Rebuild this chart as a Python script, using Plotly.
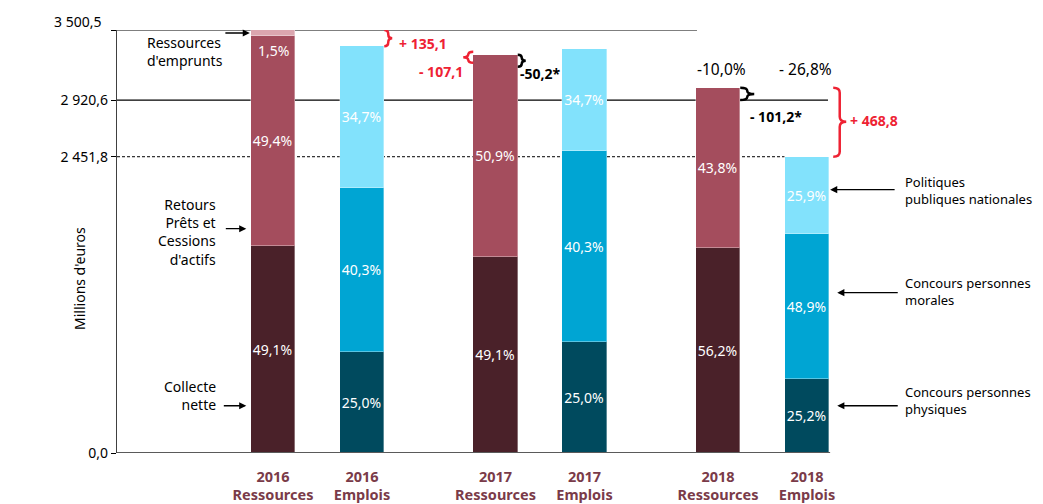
import plotly.graph_objects as go

# bar positions (2016 / 2017 / 2018, Ressources then Emplois)
ress_x = [0, 2.5, 5]
empl_x = [1, 3.5, 6]
ress_labels = ["2016<br>Ressources", "2017<br>Ressources", "2018<br>Ressources"]
empl_labels = ["2016<br>Emplois", "2017<br>Emplois", "2018<br>Emplois"]

# millions d'euros
ress_total = [3500.5, 3296.0, 3021.8]
empl_total = [3365.4, 3346.2, 2451.8]
collecte = [1709.7, 1618.7, 1699.0]
emprunts = [53.0, 0, 0]
retours = [t - c - e for t, c, e in zip(ress_total, collecte, emprunts)]
conc_pp = [832.5, 918.6, 612.4]
conc_pm = [1363.0, 1580.6, 1202.4]
pol_pub = [t - a - b for t, a, b in zip(empl_total, conc_pp, conc_pm)]

collecte_pct = ["49,1%", "49,1%", "56,2%"]
retours_pct = ["49,4%", "50,9%", "43,8%"]
emprunts_pct = "1,5%"
conc_pp_pct = ["25,0%", "25,0%", "25,2%"]
conc_pm_pct = ["40,3%", "40,3%", "48,9%"]
pol_pub_pct = ["34,7%", "34,7%", "25,9%"]

ref_vals = [3500.5, 2920.6, 2451.8, 0]
ref_text = ["3 500,5", "2 920,6", "2 451,8", "0,0"]

FONT = "Noto Sans"
RED = "#ee2233"
LAB = "#7a3b49"
XMIN, XMAX = -1.753, 8.652
PX = 1 / 89.0            # x units per pixel
PY = 3500.5 / 423.0      # y units per pixel
W = 0.5

fig = go.Figure()

def seg(x, y, color, text=None):
    fig.add_trace(go.Bar(x=x, y=y, width=W, marker=dict(color=color, line=dict(color="rgba(255,255,255,0.35)", width=1)),
                         text=text, textposition="inside" if text else "none", insidetextanchor="middle",
                         textangle=0, textfont=dict(color="white", size=14, family=FONT),
                         hoverinfo="skip", showlegend=False))

seg(ress_x, collecte, "#4a2129", collecte_pct)
seg(ress_x, retours, "#a44d5d", retours_pct)
seg(ress_x, emprunts, "#dba6af")
seg(empl_x, conc_pp, "#004a5e", conc_pp_pct)
seg(empl_x, conc_pm, "#00a5d3", conc_pm_pct)
seg(empl_x, pol_pub, "#82e2fc", pol_pub_pct)

shapes = []
# horizontal reference lines
shapes.append(dict(type="line", xref="x", yref="y", x0=XMIN, x1=4.764, y0=ref_vals[0], y1=ref_vals[0],
                   line=dict(color="black", width=1.2), layer="below"))
shapes.append(dict(type="line", xref="x", yref="y", x0=XMIN, x1=6.236, y0=ref_vals[1], y1=ref_vals[1],
                   line=dict(color="black", width=1.2), layer="below"))
shapes.append(dict(type="line", xref="x", yref="y", x0=XMIN, x1=5.75, y0=ref_vals[2], y1=ref_vals[2],
                   line=dict(color="black", width=1, dash="3px,2px"), layer="below"))
# baseline
shapes.append(dict(type="line", xref="x", yref="y", x0=XMIN, x1=6.26, y0=0, y1=0,
                   line=dict(color="#5a5a5a", width=2)))


def brace(xb, xt, yt, yb, r, ym=None):
    ym = (yt + yb) / 2 if ym is None else ym
    xm = (xb + xt) / 2
    return (f"M{xb},{yt} Q{xm},{yt} {xm},{yt - r} L{xm},{ym + r} Q{xm},{ym} {xt},{ym} "
            f"Q{xm},{ym} {xm},{ym - r} L{xm},{yb + r} Q{xm},{yb} {xb},{yb}")


def add_brace(xb, xt, yt, yb, r, color, ym=None):
    shapes.append(dict(type="path", xref="x", yref="y", path=brace(xb, xt, yt, yb, r, ym),
                       line=dict(color=color, width=2.5)))

# 2016 Emplois vs Ressources
add_brace(empl_x[0] + W / 2, empl_x[0] + W / 2 + 8 * PX, ress_total[0], empl_total[0], 4 * PY, RED)
# 2017 Ressources left / right
add_brace(ress_x[1] - W / 2, ress_x[1] - W / 2 - 10 * PX, ress_total[1] + 3 * PY, ress_total[1] - 8 * PY, 3 * PY, RED)
add_brace(ress_x[1] + W / 2, ress_x[1] + W / 2 + 8 * PX, ress_total[1], ress_total[1] - 12 * PY, 3 * PY, "black")
# 2018 Ressources vs 2920,6
add_brace(ress_x[2] + W / 2, ress_x[2] + W / 2 + 14 * PX, ress_total[2], ref_vals[1], 3 * PY, "black")
# 2018 big red bracket
add_brace(6.25 + 4 * PX, 6.25 + 17 * PX, ress_total[2], empl_total[2], 5 * PY, RED,
          ym=ress_total[2] - 34 * PY)

ann = []
ann.append(dict(x=ress_x[0], y=ress_total[0], yshift=-20, text=emprunts_pct, showarrow=False,
                font=dict(color="white", size=14)))


def txt(x, y, text, anchor="left", color="black", size=14, bold=False):
    ann.append(dict(x=x, y=y, text=f"<b>{text}</b>" if bold else text, showarrow=False, xanchor=anchor,
                    align=anchor if anchor != "center" else "center", font=dict(color=color, size=size)))


def arrow(x, y, ax):
    ann.append(dict(x=x, y=y, text="", showarrow=True, ax=ax, ay=0, arrowhead=2, arrowsize=1.1,
                    arrowwidth=1.3, arrowcolor="black"))

# left labels
txt(-1.438, 3321, "Ressources<br>d'emprunts")
txt(-0.618, 1831, "Retours<br>Prêts et<br>Cessions<br>d'actifs", anchor="right")
txt(-0.618, 475, "Collecte<br>nette", anchor="right")
arrow(-0.26, ress_total[0] - 3 * PY, -26)
arrow(-0.30, 1856, -22)
arrow(-0.30, 391, -24)

# right labels
txt(7.08, 2171, "Politiques<br>publiques nationales", size=13)
txt(7.08, 1334, "Concours personnes<br>morales", size=13)
txt(7.08, 433, "Concours personnes<br>physiques", size=13)
arrow(6.26, 2179, 66)
arrow(6.34, 1327, 62)
arrow(6.34, 391, 62)

# differences
txt(1.393, 3387, "+ 135,1", color=RED, bold=True)
txt(2.157, 3155, "- 107,1", anchor="right", color=RED, bold=True)
txt(2.753, 3139, "-50,2*", bold=True)
txt(5.337, 2783, "- 101,2*", bold=True)
txt(6.461, 2749, "+ 468,8", color=RED, bold=True)
txt(5.034, 3180, "-10,0%", anchor="center", size=15.5)
txt(5.978, 3180, "- 26,8%", anchor="center", size=15.5)

# top tick label sits a little above its line
ann.append(dict(xref="paper", x=0, xshift=-14, y=ref_vals[0], yshift=9, text=ref_text[0], xanchor="right",
                showarrow=False, font=dict(size=14)))

# y-axis title
ann.append(dict(xref="paper", x=0, xshift=-37, xanchor="center", y=1440, text="Millions d'euros",
                textangle=-90, showarrow=False, font=dict(size=14)))

# page body adds 8px offset, so figure is drawn 8px smaller
fig.update_layout(
    width=1035, height=496,
    margin=dict(l=109, r=0, t=22, b=51),
    barmode="stack", bargap=0,
    plot_bgcolor="white", paper_bgcolor="white",
    font=dict(family=FONT, size=14, color="black"),
    shapes=shapes, annotations=ann,
    uniformtext=dict(minsize=14, mode="show"),
    xaxis=dict(range=[XMIN, XMAX], tickvals=ress_x + empl_x, ticktext=ress_labels + empl_labels,
               showline=False, showgrid=False, zeroline=False, ticks="", ticklabelstandoff=13,
               tickfont=dict(size=14.5, color=LAB, weight="bold")),
    yaxis=dict(range=[0, 3500.5], tickvals=ref_vals, ticktext=[""] + ref_text[1:], showgrid=False,
               zeroline=False, showline=True, linecolor="#404040", linewidth=1.3, ticks="outside",
               ticklen=5, tickcolor="black", tickfont=dict(size=14)),
)

fig.write_html("out.html")
